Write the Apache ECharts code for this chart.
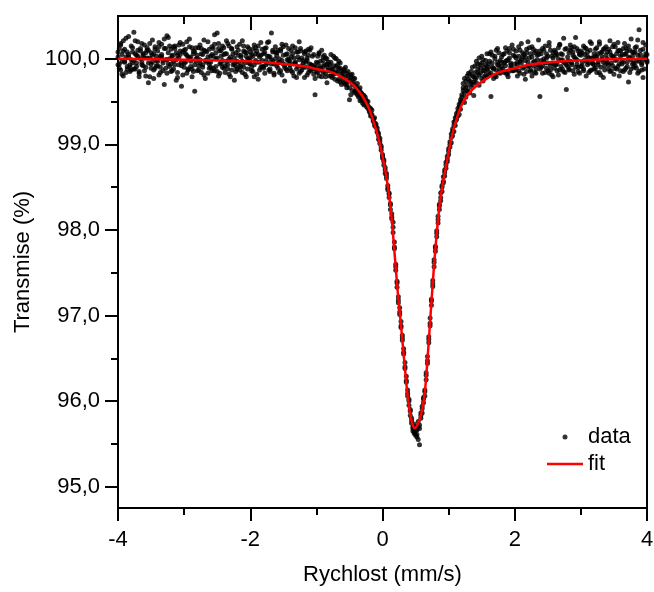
<!DOCTYPE html>
<html>
<head>
<meta charset="utf-8">
<script src="https://cdn.jsdelivr.net/npm/echarts@6/dist/echarts.min.js"></script>
<style>html,body{margin:0;padding:0;background:#fff;}#c{width:654px;height:592px;}</style>
</head>
<body>
<div id="c"></div>
<script>
// Velocity channels (mm/s)
const velocity = [
-4.00,-3.98,-3.96,-3.94,-3.92,-3.90,-3.88,-3.86,-3.84,-3.82,
-3.80,-3.78,-3.76,-3.74,-3.72,-3.70,-3.68,-3.66,-3.64,-3.62,
-3.60,-3.58,-3.56,-3.54,-3.52,-3.50,-3.48,-3.46,-3.44,-3.42,
-3.40,-3.38,-3.36,-3.34,-3.32,-3.30,-3.28,-3.26,-3.24,-3.22,
-3.20,-3.18,-3.16,-3.14,-3.12,-3.10,-3.08,-3.06,-3.04,-3.02,
-3.00,-2.98,-2.96,-2.94,-2.92,-2.90,-2.88,-2.86,-2.84,-2.82,
-2.80,-2.78,-2.76,-2.74,-2.72,-2.70,-2.68,-2.66,-2.64,-2.62,
-2.60,-2.58,-2.56,-2.54,-2.52,-2.50,-2.48,-2.46,-2.44,-2.42,
-2.40,-2.38,-2.36,-2.34,-2.32,-2.30,-2.28,-2.26,-2.24,-2.22,
-2.20,-2.18,-2.16,-2.14,-2.12,-2.10,-2.08,-2.06,-2.04,-2.02,
-2.00,-1.98,-1.96,-1.94,-1.92,-1.90,-1.88,-1.86,-1.84,-1.82,
-1.80,-1.78,-1.76,-1.74,-1.72,-1.70,-1.68,-1.66,-1.64,-1.62,
-1.60,-1.58,-1.56,-1.54,-1.52,-1.50,-1.48,-1.46,-1.44,-1.42,
-1.40,-1.38,-1.36,-1.34,-1.32,-1.30,-1.28,-1.26,-1.24,-1.22,
-1.20,-1.18,-1.16,-1.14,-1.12,-1.10,-1.08,-1.06,-1.04,-1.02,
-1.00,-0.98,-0.96,-0.94,-0.92,-0.90,-0.88,-0.86,-0.84,-0.82,
-0.80,-0.78,-0.76,-0.74,-0.72,-0.70,-0.68,-0.66,-0.64,-0.62,
-0.60,-0.58,-0.56,-0.54,-0.52,-0.50,-0.48,-0.46,-0.44,-0.42,
-0.40,-0.38,-0.36,-0.34,-0.32,-0.30,-0.28,-0.26,-0.24,-0.22,
-0.20,-0.18,-0.16,-0.14,-0.12,-0.10,-0.08,-0.06,-0.04,-0.02,
0.00,0.02,0.04,0.06,0.08,0.10,0.12,0.14,0.16,0.18,
0.20,0.22,0.24,0.26,0.28,0.30,0.32,0.34,0.36,0.38,
0.40,0.42,0.44,0.46,0.48,0.50,0.52,0.54,0.56,0.58,
0.60,0.62,0.64,0.66,0.68,0.70,0.72,0.74,0.76,0.78,
0.80,0.82,0.84,0.86,0.88,0.90,0.92,0.94,0.96,0.98,
1.00,1.02,1.04,1.06,1.08,1.10,1.12,1.14,1.16,1.18,
1.20,1.22,1.24,1.26,1.28,1.30,1.32,1.34,1.36,1.38,
1.40,1.42,1.44,1.46,1.48,1.50,1.52,1.54,1.56,1.58,
1.60,1.62,1.64,1.66,1.68,1.70,1.72,1.74,1.76,1.78,
1.80,1.82,1.84,1.86,1.88,1.90,1.92,1.94,1.96,1.98,
2.00,2.02,2.04,2.06,2.08,2.10,2.12,2.14,2.16,2.18,
2.20,2.22,2.24,2.26,2.28,2.30,2.32,2.34,2.36,2.38,
2.40,2.42,2.44,2.46,2.48,2.50,2.52,2.54,2.56,2.58,
2.60,2.62,2.64,2.66,2.68,2.70,2.72,2.74,2.76,2.78,
2.80,2.82,2.84,2.86,2.88,2.90,2.92,2.94,2.96,2.98,
3.00,3.02,3.04,3.06,3.08,3.10,3.12,3.14,3.16,3.18,
3.20,3.22,3.24,3.26,3.28,3.30,3.32,3.34,3.36,3.38,
3.40,3.42,3.44,3.46,3.48,3.50,3.52,3.54,3.56,3.58,
3.60,3.62,3.64,3.66,3.68,3.70,3.72,3.74,3.76,3.78,
3.80,3.82,3.84,3.86,3.88,3.90,3.92,3.94,3.96,3.98,
4.00];

// Measured transmission (%), first sweep
const transA = [
99.93,100.12,99.87,100.05,100.21,99.96,99.84,100.08,100.02,99.90,
100.15,99.95,100.31,99.88,100.04,100.10,99.79,100.00,100.18,99.92,
99.86,100.07,100.13,99.72,100.01,99.94,100.22,100.06,99.89,99.98,
100.09,99.81,100.03,100.17,99.95,99.70,100.12,99.99,100.25,99.91,
99.85,100.04,100.14,99.93,100.07,99.78,100.01,100.19,99.96,100.08,
99.90,100.11,99.83,100.02,100.23,99.97,99.88,100.06,99.62,100.13,
100.00,99.92,100.16,99.84,100.05,100.10,99.77,99.98,100.20,99.94,
100.03,99.86,100.12,100.28,99.91,100.01,99.80,100.09,99.95,100.15,
99.89,100.06,99.97,100.18,99.82,100.02,100.11,99.93,99.75,100.07,
100.14,99.96,99.87,100.04,100.21,99.90,100.08,99.79,100.00,100.12,
99.94,100.05,99.85,100.16,99.98,100.09,99.76,100.02,100.19,99.91,
100.06,99.83,100.13,99.95,100.03,99.88,100.30,99.97,99.81,100.08,
99.92,100.10,100.00,99.86,100.17,99.94,99.74,100.05,99.99,100.12,
99.89,100.02,100.15,99.80,99.96,100.08,99.91,100.20,99.85,100.01,
99.95,99.78,100.09,99.98,100.04,99.87,100.13,99.92,99.82,99.58,
99.90,100.03,99.80,99.97,100.10,99.84,99.93,100.01,99.72,99.96,
99.86,100.05,99.78,99.92,99.83,100.00,99.74,99.89,99.95,99.70,
99.84,99.72,99.90,99.66,99.80,99.75,99.58,99.82,99.69,99.77,
99.62,99.71,99.55,99.66,99.60,99.48,99.57,99.52,99.44,99.50,
99.43,99.36,99.40,99.29,99.31,99.22,99.19,99.13,99.07,98.96,
98.88,98.76,98.73,98.60,98.52,98.42,98.29,98.19,98.03,97.86,
97.60,97.33,97.22,97.01,96.93,96.71,96.61,96.38,96.29,96.06,
96.02,95.83,95.74,95.70,95.62,95.66,95.58,95.70,95.49,95.80,
95.86,96.04,96.13,96.25,96.52,96.68,96.97,97.12,97.41,97.57,
97.81,97.92,98.16,98.24,98.43,98.45,98.62,98.70,98.72,98.86,
98.95,98.97,99.12,99.10,99.26,99.31,99.29,99.42,99.47,99.41,
99.58,99.71,99.49,99.66,99.80,99.62,99.74,99.85,99.70,99.57,
99.92,99.78,99.88,100.01,99.83,99.95,99.74,99.90,99.81,100.06,
99.85,99.97,99.56,100.04,99.89,99.80,100.10,99.93,99.84,99.98,
100.02,99.88,99.95,100.13,99.82,99.99,100.07,99.90,100.16,99.86,
99.94,100.09,99.80,100.03,99.97,100.18,99.89,100.05,99.76,100.11,
99.96,100.01,99.85,100.14,99.92,100.07,99.83,99.99,100.22,99.56,
99.90,100.12,100.00,99.84,100.06,99.95,100.19,99.87,100.03,99.79,
100.10,99.93,100.05,99.81,100.16,99.98,99.88,100.24,99.95,99.64,
99.91,100.07,99.97,100.13,99.86,100.02,100.25,99.94,100.09,99.83,
100.04,99.92,100.15,99.99,99.80,100.08,99.95,100.20,99.87,100.01,
99.93,100.11,99.84,100.06,100.17,99.90,100.02,99.78,100.12,99.97,
100.08,99.88,100.21,99.95,100.03,99.82,100.14,99.99,99.91,100.10,
99.86,100.05,99.96,100.18,99.89,100.09,99.73,100.01,100.23,99.94,
100.07,99.92,100.14,99.83,100.34,100.00,99.95,100.19,99.88,100.06,
99.96];

// Measured transmission (%), second sweep
const transB = [
100.08,99.89,100.18,99.97,99.80,100.11,100.02,99.91,100.26,99.85,
99.99,100.13,99.88,100.06,99.95,100.20,99.83,100.09,99.93,100.04,
100.16,99.90,100.01,100.10,99.79,100.07,99.96,99.87,100.14,100.03,
99.92,100.19,99.84,100.05,99.98,100.12,99.89,100.27,99.94,100.00,
100.11,99.86,99.97,100.15,99.75,100.04,99.93,100.09,99.68,100.17,
99.95,100.06,100.20,99.88,100.01,99.91,100.13,99.85,100.08,99.97,
100.04,99.87,99.99,100.12,99.93,99.81,100.09,99.96,100.02,99.89,
99.90,100.14,100.03,99.86,100.07,100.30,100.18,99.83,100.10,99.98,
100.05,99.92,100.21,99.88,100.00,99.79,100.12,100.06,99.94,99.85,
99.97,100.10,99.91,100.02,99.84,100.15,99.95,100.07,99.88,99.99,
100.08,99.86,100.03,99.93,100.13,99.82,100.05,99.96,99.90,100.11,
99.91,100.07,99.98,100.19,99.87,100.02,99.94,100.10,99.83,100.00,
100.04,99.89,99.96,100.09,99.81,100.14,99.93,99.88,100.06,99.97,
99.93,100.10,99.84,100.01,99.95,99.78,100.08,99.99,100.12,99.87,
99.98,100.06,99.90,99.81,100.11,99.94,99.86,100.03,99.92,99.77,
99.96,99.84,100.07,99.89,99.79,100.02,99.91,99.83,100.00,99.87,
99.93,99.80,99.88,100.03,99.76,99.91,99.84,99.97,99.73,99.86,
99.79,99.88,99.70,99.83,99.74,99.52,99.81,99.71,99.77,99.62,
99.68,99.58,99.64,99.51,99.59,99.54,99.46,99.55,99.49,99.42,
99.38,99.42,99.33,99.27,99.25,99.20,99.14,99.10,99.01,98.93,
98.84,98.80,98.70,98.63,98.49,98.38,98.31,98.15,98.09,97.78,
97.53,97.40,97.15,97.09,96.86,96.77,96.55,96.45,96.22,96.13,
95.95,95.90,95.80,95.65,95.73,95.60,95.66,95.55,95.72,95.83,
95.94,95.98,96.06,96.33,96.44,96.75,96.88,97.19,97.34,97.65,
97.75,97.99,98.08,98.30,98.34,98.52,98.55,98.63,98.79,98.80,
98.88,99.03,99.02,99.18,99.15,99.22,99.36,99.33,99.35,99.52,
99.50,99.63,99.77,99.55,99.69,99.83,99.60,99.72,99.90,99.79,
99.76,99.97,99.84,99.69,99.93,100.03,99.86,99.79,99.98,99.88,
99.94,99.81,100.08,99.90,99.77,100.00,99.87,100.12,99.92,99.83,
99.91,100.05,99.84,99.97,100.09,99.79,100.01,99.93,99.86,100.11,
100.03,99.87,99.96,100.14,99.83,99.99,100.07,99.90,100.02,99.85,
100.20,99.92,100.06,99.80,100.11,99.97,99.88,100.04,99.93,100.09,
99.98,99.83,100.10,99.95,100.01,99.86,100.15,99.92,99.81,100.07,
99.89,100.04,99.94,100.13,99.87,100.06,99.99,99.85,100.11,99.93,
100.02,99.88,100.16,99.95,100.08,99.82,100.00,100.12,99.90,100.05,
99.91,100.07,99.86,100.13,99.97,100.03,99.84,100.10,100.01,99.94,
100.06,99.89,100.02,99.93,100.20,99.81,100.08,99.96,99.87,100.14,
99.95,100.11,99.85,100.04,99.92,100.17,99.98,99.88,100.09,99.80,
100.03,99.94,100.12,99.87,100.06,99.96,100.15,99.84,99.99,100.08,
99.90,100.13,99.97,100.04,99.85,100.10,99.93,99.78,100.02,100.16,
100.05];

// Measured transmission (%), third sweep
const transC = [
100.02,99.94,100.16,99.82,100.09,99.97,100.24,99.88,100.05,99.93,
99.87,100.08,99.98,100.21,99.91,100.03,99.85,100.12,99.96,100.06,
100.01,99.80,100.10,99.95,100.18,99.89,100.04,99.77,100.11,99.92,
99.97,100.14,99.90,100.02,99.86,100.23,99.99,99.83,100.07,100.15,
99.94,100.03,99.88,100.12,99.99,99.84,100.16,100.05,99.92,99.81,
100.10,99.96,100.04,99.87,100.14,100.02,99.79,100.09,99.93,100.00,
99.86,100.13,99.95,100.06,99.90,100.22,99.98,100.08,99.83,100.11,
99.96,100.05,99.89,100.17,100.00,99.85,100.12,99.94,100.03,99.90,
100.13,99.84,100.06,99.93,100.15,99.98,99.87,100.20,100.01,99.91,
99.88,100.04,100.17,99.92,99.97,100.09,99.82,100.03,100.14,99.95,
100.01,99.90,100.11,99.79,100.06,99.96,100.15,99.87,100.04,99.98,
99.89,100.12,99.93,100.03,100.20,99.85,99.99,100.08,99.94,100.14,
100.07,99.95,99.84,100.11,99.98,100.04,99.90,100.16,99.86,100.00,
99.97,99.86,100.06,99.94,100.13,99.88,100.02,99.83,100.09,99.92,
99.90,100.08,99.96,100.01,99.84,100.10,99.93,99.88,100.05,99.89,
99.85,99.95,100.06,99.91,99.87,99.98,100.04,99.79,99.94,99.90,
99.80,99.96,99.87,99.82,100.01,99.85,99.93,99.76,99.89,99.82,
99.74,99.86,99.79,99.70,99.85,99.66,99.78,99.63,99.73,99.60,
99.66,99.61,99.57,99.62,99.52,99.58,99.50,99.47,99.51,99.45,
99.40,99.33,99.35,99.30,99.22,99.24,99.16,99.06,99.04,98.98,
98.86,98.82,98.66,98.66,98.47,98.43,98.24,98.13,97.97,97.80,
97.57,97.38,97.18,97.04,96.88,96.74,96.57,96.40,96.24,96.09,
96.00,95.88,95.77,95.68,95.64,95.70,95.61,95.76,95.68,95.86,
95.91,96.02,96.11,96.30,96.47,96.72,96.91,97.17,97.37,97.62,
97.79,97.96,98.12,98.28,98.38,98.50,98.57,98.67,98.76,98.83,
98.92,99.00,99.08,99.15,99.22,99.27,99.33,99.38,99.44,99.49,
99.55,99.66,99.60,99.74,99.63,99.76,99.82,99.67,99.80,99.73,
99.84,99.72,99.94,99.81,99.89,99.77,99.99,99.86,99.93,99.79,
99.90,100.06,99.83,99.95,99.88,100.03,99.79,99.96,100.07,99.87,
99.96,99.85,100.06,99.92,99.98,99.84,100.12,99.95,99.89,100.04,
99.88,100.01,99.93,99.86,100.10,99.95,100.02,99.82,99.98,100.07,
99.91,100.13,99.87,100.02,99.96,99.84,100.09,99.93,100.05,99.88,
100.06,99.92,99.97,100.15,99.89,100.03,99.83,100.10,99.95,100.01,
99.94,100.08,99.86,100.00,100.17,99.91,100.05,99.96,99.84,100.12,
99.97,99.87,100.10,99.93,100.04,100.14,99.90,99.99,99.85,100.06,
100.09,99.96,99.88,100.05,100.12,99.93,100.01,99.86,100.18,99.95,
99.88,100.03,100.13,99.96,99.84,100.07,99.99,100.11,99.92,100.04,
100.00,99.93,100.08,99.86,100.14,100.02,99.89,100.06,100.19,99.94,
100.09,99.97,99.85,100.05,100.13,99.91,100.02,100.10,99.88,100.03,
99.95,100.08,99.89,100.22,99.97,100.05,99.87,100.11,99.99,100.01,
99.98];

// Fitted curve
const fitX = [-4.00,-3.00,-2.50,-2.00,-1.50,-1.15,-1.00,-0.80,-0.65,-0.50,-0.40,-0.30,-0.25,-0.20,-0.15,-0.10,-0.05,0.00,0.05,0.10,0.14,0.18,0.23,0.28,0.33,0.38,0.42,0.45,0.485,0.52,0.56,0.60,0.64,0.68,0.72,0.76,0.80,0.86,0.91,0.96,1.01,1.06,1.13,1.21,1.30,1.40,1.50,1.72,2.00,2.22,2.72,3.20,4.00];
const fitY = [100.00,99.99,99.98,99.97,99.94,99.91,99.88,99.85,99.80,99.73,99.66,99.56,99.49,99.41,99.30,99.18,99.04,98.86,98.66,98.40,98.12,97.75,97.28,96.88,96.46,96.06,95.84,95.74,95.68,95.71,95.78,95.90,96.10,96.48,96.93,97.38,97.78,98.27,98.53,98.74,98.95,99.13,99.32,99.48,99.59,99.67,99.73,99.83,99.89,99.93,99.97,99.99,100.00];

const yMajor = [95, 96, 97, 98, 99, 100];
const yMinor = [95.5, 96.5, 97.5, 98.5, 99.5];

const FONT = '"Liberation Sans", Arial, sans-serif';
const scatterData = [];
velocity.forEach((v, i) => {
  scatterData.push([v, transA[i]]);
  scatterData.push([v, transB[i]]);
  scatterData.push([v, transC[i]]);
});
const fitData = fitX.map((v, i) => [v, fitY[i]]);

const chart = echarts.init(document.getElementById('c'), null, { renderer: 'canvas' });
const axisLine = { show: true, onZero: false, lineStyle: { color: '#000', width: 2 } };
const tickStyle = { color: '#000', width: 2 };
chart.setOption({
  animation: false,
  backgroundColor: '#fff',
  grid: { left: 118, right: 7, top: 16, bottom: 84, containLabel: false, outerBoundsMode: 'none',
          show: true, borderColor: '#000', borderWidth: 2, backgroundColor: 'transparent' },
  legend: {
    data: [{ name: 'data' }, { name: 'fit', icon: 'path://M0 0H36V2.5H0Z' }],
    orient: 'vertical', left: 547, top: 426, padding: 0,
    itemWidth: 36, itemHeight: 5, itemGap: 5,
    textStyle: { fontSize: 22, fontFamily: FONT, color: '#000' }
  },
  xAxis: [
    { type: 'value', min: -4, max: 4, interval: 2, position: 'bottom',
      axisLine: axisLine,
      axisTick: { show: true, length: 13, lineStyle: tickStyle },
      minorTick: { show: true, splitNumber: 2, length: 7, lineStyle: tickStyle },
      axisLabel: { margin: 21, fontSize: 22, fontFamily: FONT, color: '#000' },
      splitLine: { show: false }, minorSplitLine: { show: false },
      name: 'Rychlost (mm/s)', nameLocation: 'middle', nameGap: 56,
      nameTextStyle: { fontSize: 22, fontFamily: FONT, color: '#000' } },
    { type: 'value', min: -4, max: 4, interval: 2, position: 'top',
      axisLine: axisLine,
      axisTick: { show: true, inside: true, length: 14, lineStyle: tickStyle },
      minorTick: { show: true, splitNumber: 2, length: 8, lineStyle: tickStyle },
      axisLabel: { show: false }, splitLine: { show: false } }
  ],
  yAxis: [
    { type: 'value', min: 94.75, max: 100.5, position: 'left',
      axisLine: axisLine,
      axisTick: { show: true, length: 13, lineStyle: tickStyle, customValues: yMajor },
      axisLabel: { customValues: yMajor, margin: 18, fontSize: 22, fontFamily: FONT, color: '#000',
                   formatter: v => v.toFixed(1).replace('.', ',') },
      splitLine: { show: false },
      name: 'Transmise (%)', nameLocation: 'middle', nameGap: 84,
      nameTextStyle: { fontSize: 22, fontFamily: FONT, color: '#000' } },
    { type: 'value', min: 94.75, max: 100.5, position: 'right', offset: -529,
      axisLine: { show: false, onZero: false },
      axisTick: { show: true, inside: true, length: 7, lineStyle: tickStyle, customValues: yMinor },
      axisLabel: { show: false }, splitLine: { show: false } }
  ],
  series: [
    { name: 'data', type: 'scatter', xAxisIndex: 0, yAxisIndex: 0, data: scatterData,
      symbol: 'circle', symbolSize: 5, itemStyle: { color: '#000' }, z: 2 },
    { name: 'fit', type: 'line', xAxisIndex: 0, yAxisIndex: 0, data: fitData,
      symbol: 'none', smooth: 0.3, lineStyle: { color: '#ff0000', width: 2.5 },
      itemStyle: { color: '#ff0000' }, z: 3 }
  ]
});
</script>
</body>
</html>
